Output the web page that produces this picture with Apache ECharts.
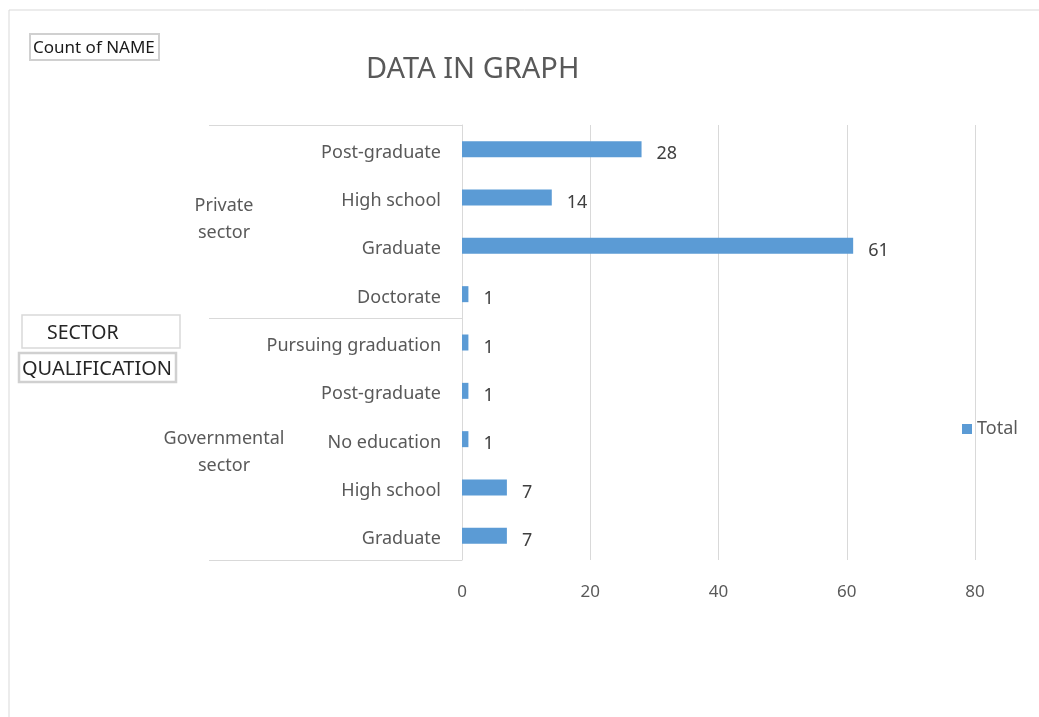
<!DOCTYPE html>
<html>
<head>
<meta charset="utf-8">
<title>DATA IN GRAPH</title>
<script src="https://cdn.jsdelivr.net/npm/echarts@6/dist/echarts.min.js"></script>
<style>
  html, body { margin: 0; padding: 0; background: #fff; }
  #main { width: 1039px; height: 717px; }
</style>
</head>
<body>
<div id="main"></div>
<script>
// 数据
const sectors = [
  "Private sector", "Private sector", "Private sector", "Private sector",
  "Governmental sector", "Governmental sector", "Governmental sector",
  "Governmental sector", "Governmental sector"
];
const qualifications = [
  "Post-graduate", "High school", "Graduate", "Doctorate",
  "Pursuing graduation", "Post-graduate", "No education", "High school", "Graduate"
];
const counts = [28, 14, 61, 1, 1, 1, 1, 7, 7];
const xMin = 0;
const xMax = 80;
const xStep = 20;

const FONT = "Noto Sans";
const GREY = "#595959";
const LINE = "#d9d9d9";

// 类目用唯一键，避免重名
const keys = qualifications.map((q, i) => sectors[i] + "|" + q);

const chart = echarts.init(document.getElementById("main"));

// 分组标签：只在某一行显示，上面加一段空白把文字往下推
const sectorAxis = (row, text, spacer) => ({
  type: "category",
  inverse: true,
  position: "left",
  data: keys,
  axisLine: { show: false },
  axisTick: { show: false },
  axisLabel: {
    interval: 0,
    margin: 238,
    align: "center",
    fontFamily: FONT,
    fontSize: 18,
    color: GREY,
    lineHeight: 27,
    rich: { s: { fontSize: 1, lineHeight: spacer } },
    formatter: (v, i) => (i === row ? "{s| }\n" + text : "")
  }
});

const option = {
  animation: false,
  textStyle: { fontFamily: FONT },
  title: {
    text: "DATA IN GRAPH",
    left: 361,
    top: 50,
    textStyle: { fontFamily: FONT, fontSize: 29, fontWeight: "normal", color: GREY }
  },
  legend: {
    left: 957,
    top: 415,
    icon: "rect",
    itemWidth: 10,
    itemHeight: 10,
    itemGap: 6,
    textStyle: { fontFamily: FONT, fontSize: 18, color: GREY },
    data: ["Total"]
  },
  grid: { left: 462, right: 64, top: 125, bottom: 157 },
  xAxis: {
    type: "value",
    min: xMin,
    max: xMax,
    interval: xStep,
    axisLine: { show: false },
    axisTick: { show: false },
    splitLine: { lineStyle: { color: LINE, width: 1 } },
    axisLabel: { margin: 24, fontFamily: FONT, fontSize: 17, color: GREY }
  },
  yAxis: [
    {
      type: "category",
      inverse: true,
      position: "left",
      data: keys,
      axisLine: { show: true, lineStyle: { color: LINE } },
      // 分组分隔线
      axisTick: {
        show: true,
        length: 253,
        interval: (i) => i === 0 || i === 4,
        lineStyle: { color: LINE }
      },
      axisLabel: {
        interval: 0,
        margin: 21,
        fontFamily: FONT,
        fontSize: 18,
        color: GREY,
        verticalAlign: "top",
        lineHeight: 7,
        formatter: (v) => v.split("|")[1]
      }
    },
    sectorAxis(1, "Private\nsector", 44),
    sectorAxis(6, "Governmental\nsector", 26)
  ],
  series: [
    {
      name: "Total",
      type: "bar",
      barWidth: 16,
      itemStyle: { color: "#5B9BD5" },
      label: {
        show: true,
        position: "right",
        distance: 15,
        offset: [0, 5],
        fontFamily: FONT,
        fontSize: 18,
        color: "#404040"
      },
      data: counts
    }
  ],
  graphic: [
    {
      type: "rect",
      z: -10,
      shape: { x: 9, y: 10, width: 1200, height: 900 },
      style: { fill: "none", stroke: LINE, lineWidth: 1 }
    },
    {
      type: "rect",
      shape: { x: 30, y: 34, width: 129, height: 26 },
      style: { fill: "#fff", stroke: "#d0d0d0", lineWidth: 2 }
    },
    {
      type: "text",
      x: 33,
      y: 48,
      style: { text: "Count of NAME", fontFamily: FONT, fontSize: 17, fill: "#1a1a1a", verticalAlign: "middle" }
    },
    {
      type: "rect",
      shape: { x: 22, y: 315, width: 158, height: 33 },
      style: { fill: "#fff", stroke: LINE, lineWidth: 1.5 }
    },
    {
      type: "text",
      x: 47,
      y: 333,
      style: { text: "SECTOR", fontFamily: FONT, fontSize: 19.5, fill: "#262626", verticalAlign: "middle" }
    },
    {
      type: "rect",
      shape: { x: 19, y: 353, width: 157, height: 29 },
      style: { fill: "#fff", stroke: "#d0d0d0", lineWidth: 2.5 }
    },
    {
      type: "text",
      x: 22,
      y: 369,
      style: { text: "QUALIFICATION", fontFamily: FONT, fontSize: 20, fill: "#262626", verticalAlign: "middle" }
    }
  ]
};

chart.setOption(option);

window.addEventListener("resize", function () {
  chart.resize();
});
</script>
</body>
</html>
